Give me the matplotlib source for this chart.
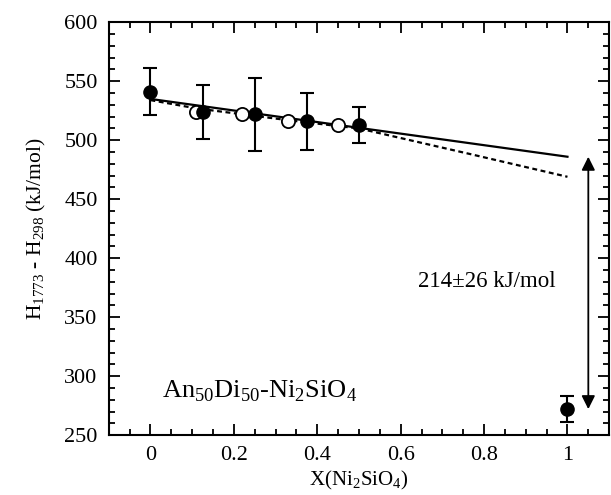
import numpy as np
import matplotlib.pyplot as plt
from matplotlib.ticker import MultipleLocator

plt.rcParams['font.family'] = ['Liberation Serif', 'DejaVu Serif']
plt.rcParams['mathtext.fontset'] = 'custom'
plt.rcParams['mathtext.rm'] = 'Liberation Serif'

# measured (filled) points with error bars
x_meas = [0.0, 0.125, 0.25, 0.375, 0.5, 1.0]
h_meas = [541, 524, 522, 516, 513, 272]
h_err = [20, 23, 31, 24, 15, 11]

# calculated (open) points
x_calc = [0.11, 0.22, 0.33, 0.45]
h_calc = [524, 522, 516, 513]

# linear fit (solid) and model curve (dashed)
x_fit = [0.0, 1.0]
h_fit = [535, 486]
x_mod = [0.0, 0.11, 0.22, 0.33, 0.45, 0.5, 0.77, 1.0]
h_mod = [534, 527, 522, 517, 512, 510, 488, 469]

fig = plt.figure(figsize=(6.11, 4.95), dpi=100)
ax = fig.add_axes([0.178, 0.121, 0.819, 0.834])

ax.plot(x_fit, h_fit, color='black', lw=1.6, zorder=2)
ax.plot(x_mod, h_mod, color='black', lw=1.6, ls=(0, (2.2, 1.6)), zorder=2)
ax.errorbar(x_meas, h_meas, yerr=h_err, fmt='o', color='black', ms=9.5,
            capsize=5, capthick=1.5, elinewidth=1.5, zorder=4)
ax.plot(x_calc, h_calc, 'o', mfc='white', mec='black', mew=1.3, ms=9.5, zorder=3)

# difference arrow between end-member and fit
ax.annotate('', xy=(1.05, h_meas[-1]), xytext=(1.05, h_fit[-1]),
            arrowprops=dict(arrowstyle='<|-|>', color='black', lw=1.3,
                            mutation_scale=20, shrinkA=0, shrinkB=0))
ax.text(0.641, 380, '214\u00b126 kJ/mol', fontsize=16.5, va='center')
ax.text(0.028, 287, r'An$_{50}$Di$_{50}$-Ni$_2$SiO$_4$', fontsize=19, va='center')

ax.set_xlim(-0.1, 1.1)
ax.set_ylim(250, 600)
ax.xaxis.set_major_locator(MultipleLocator(0.2))
ax.xaxis.set_minor_locator(MultipleLocator(0.05))
ax.yaxis.set_major_locator(MultipleLocator(50))
ax.yaxis.set_minor_locator(MultipleLocator(10))
ax.set_xticks([0, 0.2, 0.4, 0.6, 0.8, 1.0])
ax.set_xticklabels(['0', '0.2', '0.4', '0.6', '0.8', '1'])
ax.tick_params(which='both', direction='in', top=True, right=True, labelsize=16, width=1.3)
ax.tick_params(which='major', length=8, pad=8)
ax.tick_params(which='minor', length=4)
for s in ax.spines.values():
    s.set_linewidth(1.5)

ax.set_xlabel(r'X(Ni$_2$SiO$_4$)', fontsize=15, labelpad=3)
ax.set_ylabel(r'H$_{1773}$ - H$_{298}$ (kJ/mol)', fontsize=15.5, labelpad=12)

fig.savefig('out.png', dpi=100)
